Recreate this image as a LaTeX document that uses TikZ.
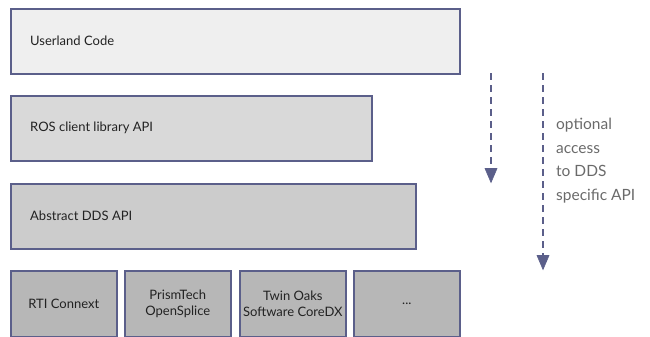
\documentclass[tikz,border=0pt]{standalone}
\usepackage{fontspec}
\setmainfont{Lato}
\usetikzlibrary{arrows.meta}
\definecolor{edge}{HTML}{5B5F8A}
\definecolor{fillA}{HTML}{EFEFEF}
\definecolor{fillB}{HTML}{D9D9D9}
\definecolor{fillC}{HTML}{CCCCCC}
\definecolor{fillD}{HTML}{B7B7B7}
\definecolor{txt}{HTML}{222222}
\definecolor{note}{HTML}{6A6A6A}
\begin{document}
\begin{tikzpicture}[x=1pt,y=-1pt,
  layer/.style={draw=edge,line width=1.6pt,anchor=north west,inner sep=0pt,
    text=txt,font=\fontsize{13}{15}\selectfont},
  label/.style={anchor=west,inner sep=0pt,text=txt,font=\fontsize{13}{15}\selectfont},
  impl/.style={layer,align=center,font=\fontsize{13}{16}\selectfont},
  dashline/.style={draw=edge,line width=1.8pt,dash pattern=on 7pt off 5pt,shorten >=12pt},
  headtip/.style={draw=edge,fill=edge,line width=0.6pt,line join=miter}]
\useasboundingbox (0,0) rectangle (650,337);
\node[layer,fill=fillA,minimum width=449pt,minimum height=65pt] (user) at (10,8) {};
\node[label] (usert) at (30,41) {Userland Code};
\node[layer,fill=fillB,minimum width=361pt,minimum height=65pt] (ros) at (10,95) {};
\node[label] (rost) at (30,128) {ROS client library API};
\node[layer,fill=fillC,minimum width=405pt,minimum height=65pt] (dds) at (10,183) {};
\node[label] (ddst) at (30,216) {Abstract DDS API};
\node[impl,fill=fillD,minimum width=106pt,minimum height=66pt] (rti) at (10,270) {RTI Connext};
\node[impl,fill=fillD,minimum width=106pt,minimum height=66pt] (prism) at (124,270) {PrismTech\\OpenSplice};
\node[impl,fill=fillD,minimum width=106pt,minimum height=66pt] (twin) at (239,270) {Twin Oaks\\Software CoreDX};
\node[impl,fill=fillD,minimum width=106pt,minimum height=66pt] (etc) at (353,270) {...};
\coordinate (a1s) at (491,73);
\coordinate (a1e) at (491,182.5);
\coordinate (a2s) at (543,73);
\coordinate (a2e) at (543,269.5);
\draw[dashline] (a1s) -- (a1e);
\draw[dashline] (a2s) -- (a2e);
\draw[headtip] (a1e) -- ++(-6,-14) -- ++(12,0) -- cycle;
\draw[headtip] (a2e) -- ++(-6,-14) -- ++(12,0) -- cycle;
\node[anchor=north west,align=left,text=note,inner sep=0pt,
  font=\fontsize{15.5}{23.5}\selectfont] (opt) at (556,118) {optional\\access\\to DDS\\specific API};
\end{tikzpicture}
\end{document}
